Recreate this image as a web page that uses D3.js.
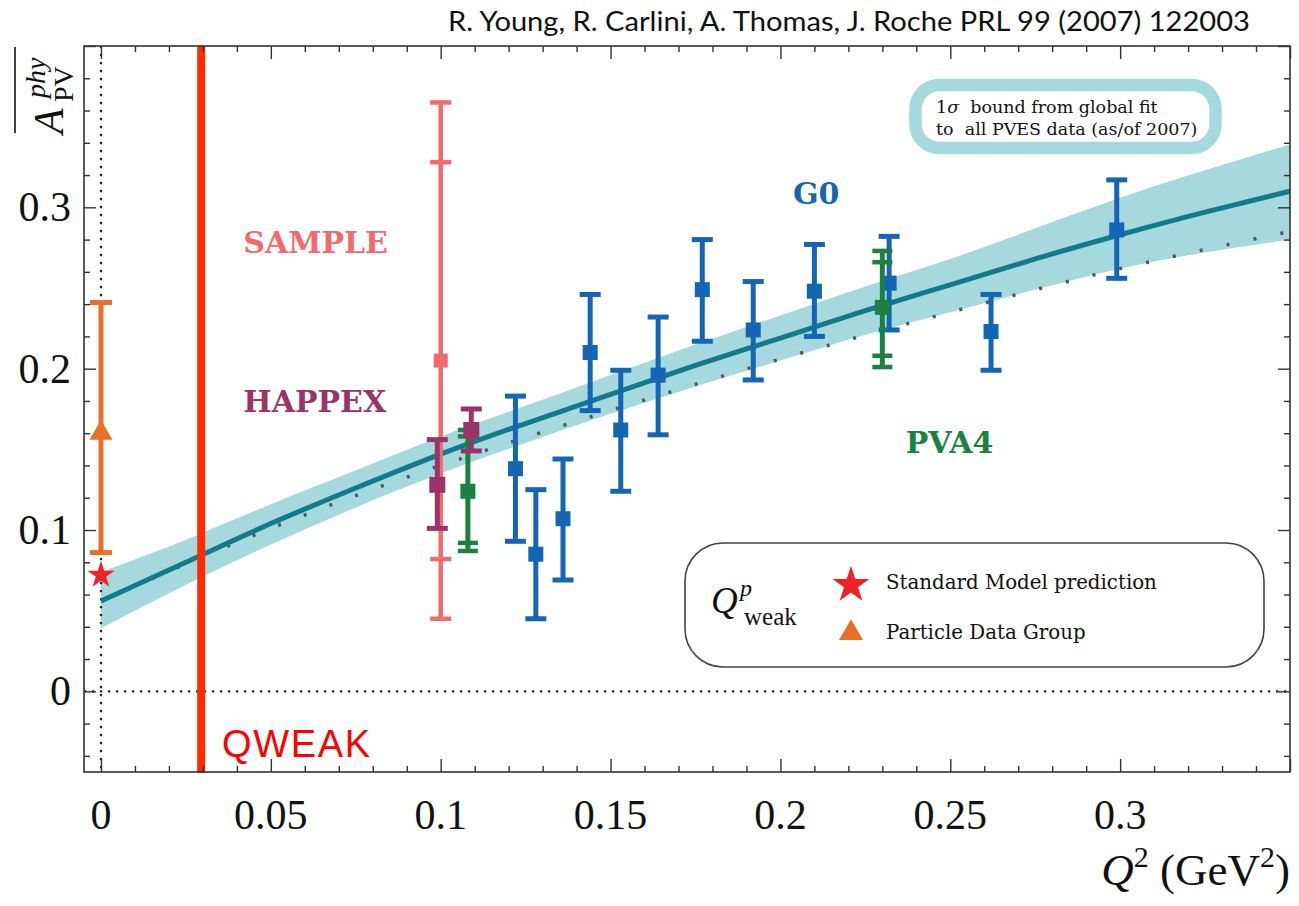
<!DOCTYPE html>
<html>
<head>
<meta charset="utf-8">
<script src="https://cdn.jsdelivr.net/npm/d3@7"></script>
<style>
  body { margin: 0; background: #fff; }
  svg text { white-space: pre; }
</style>
</head>
<body>
<div id="chart"></div>
<script>
// global fit (1 sigma band + central curve)
const fitQ2      = [0, 0.025, 0.05, 0.075, 0.1, 0.125, 0.15, 0.175, 0.2, 0.225, 0.25, 0.275, 0.3, 0.325, 0.35];
const fitCentral = [0.056, 0.080, 0.104, 0.126, 0.147, 0.166, 0.184, 0.202, 0.219, 0.236, 0.252, 0.268, 0.283, 0.297, 0.310];
const fitLow     = [0.039, 0.066, 0.091, 0.114, 0.135, 0.154, 0.172, 0.189, 0.205, 0.221, 0.235, 0.249, 0.262, 0.272, 0.280];
const fitHigh    = [0.074, 0.094, 0.116, 0.137, 0.158, 0.177, 0.196, 0.215, 0.233, 0.251, 0.268, 0.287, 0.306, 0.323, 0.339];

// dotted curve
const dotQ2 = [0, 0.05, 0.1, 0.15, 0.2, 0.25, 0.3, 0.35];
const dotA  = [0.056, 0.101, 0.140, 0.174, 0.206, 0.235, 0.262, 0.285];

// G0
const g0Q2 = [0.122, 0.128, 0.136, 0.144, 0.153, 0.164, 0.177, 0.192, 0.210, 0.232, 0.262, 0.299];
const g0A  = [0.138, 0.085, 0.107, 0.210, 0.162, 0.196, 0.249, 0.224, 0.248, 0.253, 0.223, 0.286];
const g0Lo = [0.093, 0.045, 0.069, 0.174, 0.124, 0.159, 0.217, 0.193, 0.220, 0.224, 0.199, 0.256];
const g0Hi = [0.183, 0.125, 0.144, 0.246, 0.199, 0.232, 0.280, 0.254, 0.277, 0.282, 0.246, 0.317];

// SAMPLE (inner + outer error bars)
const sampleQ2 = [0.100];
const sampleA = [0.205];
const sampleInLo = [0.082], sampleInHi = [0.328];
const sampleLo = [0.045], sampleHi = [0.365];

// HAPPEX
const happexQ2 = [0.099, 0.109];
const happexA  = [0.128, 0.162];
const happexLo = [0.101, 0.149];
const happexHi = [0.156, 0.175];

// PVA4 (stat + total)
const pva4Q2 = [0.108, 0.230];
const pva4A  = [0.124, 0.238];
const pva4InLo = [0.092, 0.208], pva4InHi = [0.158, 0.266];
const pva4Lo = [0.087, 0.201], pva4Hi = [0.162, 0.273];

// Q_weak points at Q2 = 0
const pdgQ2 = [0], pdgA = [0.160], pdgLo = [0.086], pdgHi = [0.241];
const smQ2 = [0], smA = [0.072];

const qweakQ2 = 0.0295;

const xTicksMajor = [0, 0.05, 0.1, 0.15, 0.2, 0.25, 0.3, 0.35];
const xTickLabels = ["0", "0.05", "0.1", "0.15", "0.2", "0.25", "0.3"];
const yTicksMajor = [0, 0.1, 0.2, 0.3, 0.4];
const yTickLabels = ["0", "0.1", "0.2", "0.3"];

const W = 1299, H = 906;
const pLeft = 84, pRight = 1290, pTop = 46, pBottom = 772;

const svg = d3.select("#chart").append("svg")
    .attr("width", W).attr("height", H);

const x = d3.scaleLinear().domain([-0.005, 0.35]).range([pLeft, pRight]);
const y = d3.scaleLinear().domain([-0.05, 0.4]).range([pBottom, pTop]);

const serif = "'Liberation Serif', 'Times New Roman', serif";
const textSerif = "'DejaVu Serif', serif";
const bandColor = "#a5d9dd";

// title
svg.append("text")
    .attr("x", 1250).attr("y", 31)
    .attr("text-anchor", "end")
    .attr("font-family", "Lato, 'Liberation Sans', sans-serif")
    .attr("font-size", 26)
    .attr("textLength", 802)
    .attr("lengthAdjust", "spacingAndGlyphs")
    .attr("fill", "#111")
    .text("R. Young, R. Carlini, A. Thomas, J. Roche PRL 99 (2007) 122003");

const plot = svg.append("g");

// band
const fitRows = fitQ2.map((q, i) => ({ q: q, c: fitCentral[i], lo: fitLow[i], hi: fitHigh[i] }));
plot.append("path")
    .datum(fitRows)
    .attr("fill", bandColor)
    .attr("d", d3.area()
        .x(d => x(d.q)).y0(d => y(d.lo)).y1(d => y(d.hi))
        .curve(d3.curveNatural));

// zero lines (dotted)
plot.append("line")
    .attr("x1", x(0)).attr("x2", x(0))
    .attr("y1", pTop).attr("y2", pBottom)
    .attr("stroke", "#222").attr("stroke-width", 2.2)
    .attr("stroke-dasharray", "2.2,5.8");
plot.append("line")
    .attr("x1", pLeft).attr("x2", pRight)
    .attr("y1", y(0)).attr("y2", y(0))
    .attr("stroke", "#222").attr("stroke-width", 2.2)
    .attr("stroke-dasharray", "2.2,5.8");

// dotted curve
plot.append("path")
    .datum(dotQ2.map((q, i) => [q, dotA[i]]))
    .attr("fill", "none")
    .attr("stroke", "#555")
    .attr("stroke-width", 3.5)
    .attr("stroke-dasharray", "3,24.5")
    .attr("d", d3.line().x(d => x(d[0])).y(d => y(d[1])).curve(d3.curveNatural));

// central curve
plot.append("path")
    .datum(fitRows)
    .attr("fill", "none")
    .attr("stroke", "#127b8b")
    .attr("stroke-width", 5)
    .attr("d", d3.line().x(d => x(d.q)).y(d => y(d.c)).curve(d3.curveNatural));

// QWEAK line
plot.append("line")
    .attr("x1", x(qweakQ2)).attr("x2", x(qweakQ2))
    .attr("y1", pTop).attr("y2", pBottom + 1)
    .attr("stroke", "#ff2a00").attr("stroke-width", 8);

svg.append("text")
    .attr("x", 222).attr("y", 757)
    .attr("font-family", "'Liberation Sans', Arial, sans-serif")
    .attr("font-size", 38)
    .attr("textLength", 148)
    .attr("fill", "#ff0000")
    .text("QWEAK");

function errorBars(rows, color, o) {
    const g = plot.append("g");
    rows.forEach(r => {
        const cx = x(r.q);
        g.append("line")
            .attr("x1", cx).attr("x2", cx)
            .attr("y1", y(r.hi)).attr("y2", y(r.lo))
            .attr("stroke", color).attr("stroke-width", o.lw);
        r.caps.forEach(c => {
            g.append("line")
                .attr("x1", cx - o.capW / 2).attr("x2", cx + o.capW / 2)
                .attr("y1", y(c)).attr("y2", y(c))
                .attr("stroke", color).attr("stroke-width", o.capH);
        });
        if (o.marker === "square") {
            g.append("rect")
                .attr("x", cx - o.ms / 2).attr("y", y(r.a) - o.ms / 2)
                .attr("width", o.ms).attr("height", o.ms)
                .attr("fill", color);
        } else {
            g.append("path")
                .attr("transform", `translate(${cx},${y(r.a)})`)
                .attr("d", d3.symbol(o.marker, o.ms)())
                .attr("fill", color);
        }
    });
}

errorBars(sampleQ2.map((q, i) => ({ q: q, a: sampleA[i], lo: sampleLo[i], hi: sampleHi[i],
    caps: [sampleLo[i], sampleHi[i], sampleInLo[i], sampleInHi[i]] })),
    "#f26a6b", { lw: 4.5, capW: 21, capH: 4.5, ms: 14, marker: "square" });

errorBars(g0Q2.map((q, i) => ({ q: q, a: g0A[i], lo: g0Lo[i], hi: g0Hi[i], caps: [g0Lo[i], g0Hi[i]] })),
    "#1466b4", { lw: 5, capW: 21, capH: 5, ms: 15, marker: "square" });

errorBars(pva4Q2.map((q, i) => ({ q: q, a: pva4A[i], lo: pva4Lo[i], hi: pva4Hi[i],
    caps: [pva4Lo[i], pva4Hi[i], pva4InLo[i], pva4InHi[i]] })),
    "#1a8141", { lw: 5, capW: 20, capH: 4.5, ms: 15, marker: "square" });

errorBars(happexQ2.map((q, i) => ({ q: q, a: happexA[i], lo: happexLo[i], hi: happexHi[i],
    caps: [happexLo[i], happexHi[i]] })),
    "#9a3466", { lw: 5, capW: 21, capH: 5, ms: 16, marker: "square" });

errorBars(pdgQ2.map((q, i) => ({ q: q, a: pdgA[i], lo: pdgLo[i], hi: pdgHi[i], caps: [pdgLo[i], pdgHi[i]] })),
    "#e8702a", { lw: 5, capW: 22, capH: 5, ms: 230, marker: d3.symbolTriangle });

plot.selectAll(".sm")
    .data(smQ2.map((q, i) => [q, smA[i]]))
    .join("path")
    .attr("transform", d => `translate(${x(d[0])},${y(d[1])})`)
    .attr("d", d3.symbol(d3.symbolStar, 230)())
    .attr("fill", "#ec2428");

// experiment labels
const labels = [
    { t: "SAMPLE", q: 0.0419, a: 0.272, c: "#f26a6b" },
    { t: "HAPPEX", q: 0.0419, a: 0.173, c: "#9a3466" },
    { t: "G0", q: 0.2037, a: 0.302, c: "#1466b4" },
    { t: "PVA4", q: 0.2369, a: 0.148, c: "#1a8141" }
];
svg.selectAll(".lab")
    .data(labels)
    .join("text")
    .attr("x", d => x(d.q)).attr("y", d => y(d.a))
    .attr("font-family", textSerif)
    .attr("font-weight", "bold")
    .attr("font-size", 30)
    .attr("fill", d => d.c)
    .text(d => d.t);

// fit legend box
svg.append("rect")
    .attr("x", 915.5).attr("y", 85).attr("width", 300).attr("height", 63)
    .attr("rx", 24).attr("ry", 24)
    .attr("fill", "#fff").attr("stroke", bandColor).attr("stroke-width", 12.5);
const fitTxt = svg.append("g")
    .attr("font-family", textSerif).attr("font-size", 17.5).attr("fill", "#111");
const l1 = fitTxt.append("text").attr("x", 936).attr("y", 113);
l1.append("tspan").text("1");
l1.append("tspan").attr("font-style", "italic").text("σ");
l1.append("tspan").text("  bound from global fit");
fitTxt.append("text").attr("x", 936).attr("y", 135).text("to  all PVES data (as/of 2007)");

// Q_weak legend
svg.append("rect")
    .attr("x", 685).attr("y", 543).attr("width", 579).attr("height", 124)
    .attr("rx", 38).attr("ry", 38)
    .attr("fill", "#fff").attr("stroke", "#444").attr("stroke-width", 1.6);
const leg = svg.append("g").attr("font-family", serif).attr("fill", "#111");
leg.append("text").attr("x", 711).attr("y", 613)
    .attr("font-size", 37).attr("font-style", "italic").text("Q");
leg.append("text").attr("x", 740).attr("y", 596)
    .attr("font-size", 24).attr("font-style", "italic").text("p");
leg.append("text").attr("x", 744).attr("y", 625)
    .attr("font-size", 25).text("weak");
leg.append("path").attr("transform", "translate(851,585)")
    .attr("d", d3.symbol(d3.symbolStar, 420)()).attr("fill", "#ec2428");
leg.append("path").attr("transform", "translate(851,633)")
    .attr("d", d3.symbol(d3.symbolTriangle, 250)()).attr("fill", "#e8702a");
leg.append("text").attr("x", 886).attr("y", 589)
    .attr("font-family", textSerif).attr("font-size", 19.8)
    .text("Standard Model prediction");
leg.append("text").attr("x", 886).attr("y", 639)
    .attr("font-family", textSerif).attr("font-size", 19.8)
    .text("Particle Data Group");

// axes: frame + inward ticks on all four sides
const xMinor = d3.range(0, 0.3501, 0.01).filter(v => Math.abs(v / 0.05 - Math.round(v / 0.05)) > 1e-6);
const yMinor = d3.range(-0.04, 0.4001, 0.02).filter(v => Math.abs(v / 0.1 - Math.round(v / 0.1)) > 1e-6);

function addAxis(axisFn, scale, pos, vals, size) {
    const g = svg.append("g")
        .attr("transform", pos)
        .call(axisFn(scale).tickValues(vals).tickSize(size).tickFormat(""));
    g.select(".domain").remove();
    g.selectAll("line").attr("stroke", "#333").attr("stroke-width", 1.4);
}
addAxis(d3.axisBottom, x, `translate(0,${pBottom})`, xMinor, -6);
addAxis(d3.axisBottom, x, `translate(0,${pBottom})`, xTicksMajor, -13);
addAxis(d3.axisTop, x, `translate(0,${pTop})`, xMinor, -6);
addAxis(d3.axisTop, x, `translate(0,${pTop})`, xTicksMajor, -13);
addAxis(d3.axisLeft, y, `translate(${pLeft},0)`, yMinor, -6);
addAxis(d3.axisLeft, y, `translate(${pLeft},0)`, yTicksMajor, -12);
addAxis(d3.axisRight, y, `translate(${pRight},0)`, yMinor, -6);
addAxis(d3.axisRight, y, `translate(${pRight},0)`, yTicksMajor, -12);

svg.append("rect")
    .attr("x", pLeft).attr("y", pTop)
    .attr("width", pRight - pLeft).attr("height", pBottom - pTop)
    .attr("fill", "none").attr("stroke", "#333").attr("stroke-width", 1.6);

// tick labels
svg.selectAll(".xl")
    .data(xTickLabels)
    .join("text")
    .attr("x", d => x(+d)).attr("y", 829)
    .attr("text-anchor", "middle")
    .attr("font-family", serif).attr("font-size", 42).attr("fill", "#111")
    .text(d => d);
svg.selectAll(".yl")
    .data(yTickLabels)
    .join("text")
    .attr("x", 71).attr("y", d => y(+d))
    .attr("dy", "0.33em")
    .attr("text-anchor", "end")
    .attr("font-family", serif).attr("font-size", 42).attr("fill", "#111")
    .text(d => d);

// x axis title
const xt = svg.append("text")
    .attr("x", 1290).attr("y", 885)
    .attr("text-anchor", "end")
    .attr("font-family", serif).attr("font-size", 45).attr("fill", "#111");
xt.append("tspan").attr("font-style", "italic").text("Q");
xt.append("tspan").attr("font-size", 30).attr("dy", -18).text("2");
xt.append("tspan").attr("dy", 18).text(" (GeV");
xt.append("tspan").attr("font-size", 30).attr("dy", -18).text("2");
xt.append("tspan").attr("dy", 18).text(")");

// y axis title (rotated, with overline)
svg.append("line")
    .attr("x1", 15).attr("x2", 15).attr("y1", 47).attr("y2", 133)
    .attr("stroke", "#111").attr("stroke-width", 1.6);
const yt = svg.append("g")
    .attr("transform", "translate(63,134) rotate(-90)")
    .attr("font-family", serif).attr("fill", "#111");
yt.append("text").attr("x", 0).attr("y", 0)
    .attr("font-size", 42).attr("font-style", "italic").text("A");
yt.append("text").attr("x", 32).attr("y", 10)
    .attr("font-size", 28).text("PV");
yt.append("text").attr("x", 36).attr("y", -18)
    .attr("font-size", 28).attr("font-style", "italic").text("phy");
</script>
</body>
</html>
